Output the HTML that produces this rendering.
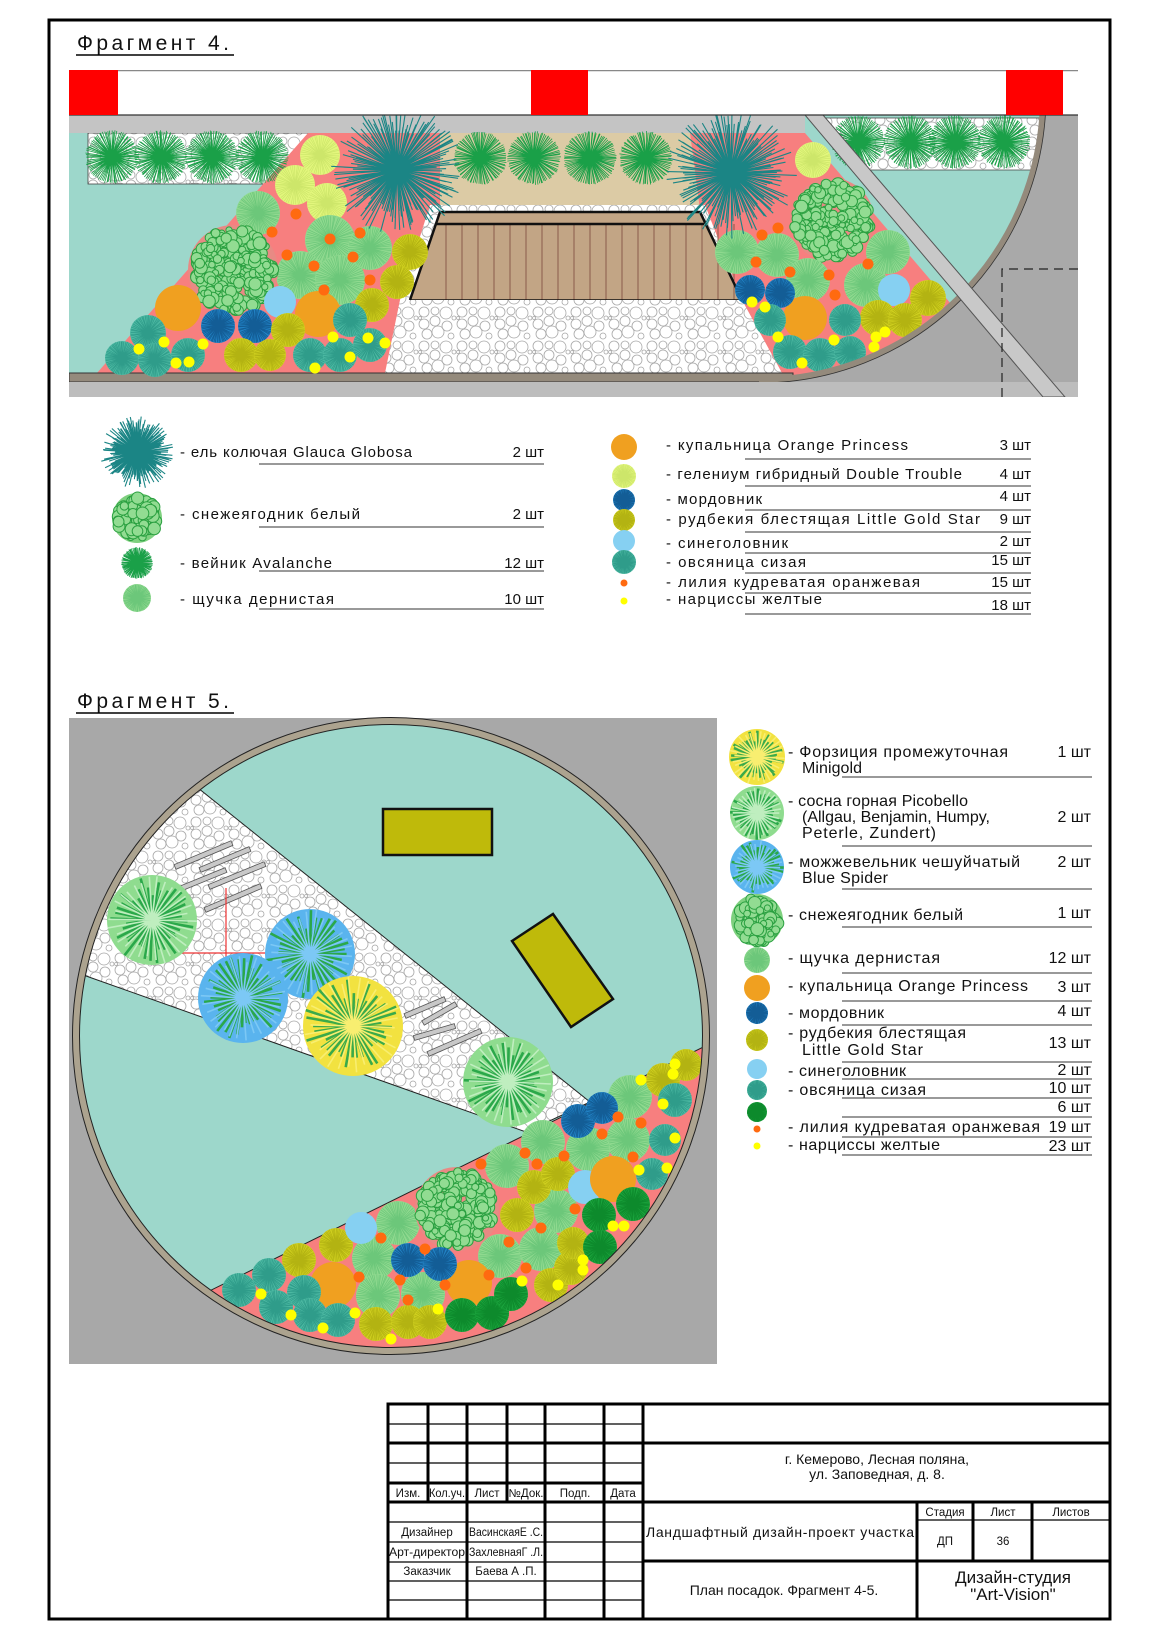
<!DOCTYPE html>
<html><head><meta charset="utf-8"><style>html,body{margin:0;padding:0;background:#fff}svg{display:block}text{font-family:"Liberation Sans",sans-serif;fill:#111}</style></head>
<body>
<svg id="s" width="1160" height="1640" viewBox="0 0 1160 1640" xmlns="http://www.w3.org/2000/svg">
<defs>
<pattern id="gv" width="38" height="34" patternUnits="userSpaceOnUse">
<rect width="38" height="34" fill="#fff"/>
<g fill="none" stroke="#a8a8a8" stroke-width="0.8">
<circle cx="6" cy="6" r="5"/><circle cx="17" cy="5" r="4"/><circle cx="28" cy="7" r="6"/><circle cx="6" cy="18" r="5"/><circle cx="17" cy="15" r="5"/><circle cx="29" cy="20" r="5"/><circle cx="9" cy="28" r="5"/><circle cx="20" cy="26" r="6"/><circle cx="33" cy="30" r="3"/><circle cx="36" cy="12" r="2"/><circle cx="2" cy="12" r="1.5"/>
</g></pattern>
<clipPath id="c4"><circle cx="759" cy="96" r="284"/></clipPath>
<clipPath id="arc4"><rect x="759" y="115" width="320" height="282"/></clipPath>
<clipPath id="c5"><circle cx="391" cy="1036" r="313"/></clipPath>
<clipPath id="f4"><rect x="69" y="70" width="1009" height="327"/></clipPath>
</defs>
<rect x="49" y="20" width="1061" height="1599" fill="none" stroke="#000" stroke-width="3"/>
<text x="77" y="50" font-size="21" textLength="152" lengthAdjust="spacing">Фрагмент 4.</text>
<line x1="76" y1="55" x2="234" y2="55" stroke="#000" stroke-width="1.6"/>
<text x="77" y="708" font-size="21" textLength="152" lengthAdjust="spacing">Фрагмент 5.</text>
<line x1="76" y1="713" x2="234" y2="713" stroke="#000" stroke-width="1.6"/>

<g id="fr4" clip-path="url(#f4)">
<rect x="69" y="70" width="1009" height="327" fill="#bdbdbd"/>
<rect x="740" y="115" width="338" height="282" fill="#a9a9a9"/>
<g clip-path="url(#arc4)"><circle cx="759" cy="96" r="284" fill="#9dd7cb"/></g>
<rect x="69" y="133" width="700" height="240" fill="#9dd7cb"/>
<rect x="88" y="133" width="240" height="51" fill="url(#gv)" stroke="#444" stroke-width="0.8"/>
<g clip-path="url(#c4)"><polygon points="818,118 1045,118 1045,170 862,170" fill="url(#gv)" stroke="#444" stroke-width="0.8"/></g>
<rect x="420" y="133" width="300" height="75" fill="#dccba5"/>
<polygon points="97,373 308,133 440,133 440,205 385,373" fill="#f77f7f"/>
<g clip-path="url(#c4)"><polygon points="690,133 805,133 1010,373 700,400 742,300 700,210" fill="#f77f7f"/></g>
<polygon points="430,205 705,205 742,300 400,300" fill="url(#gv)"/>
<polygon points="440,212 700,212 742,300 410,300" fill="#c2a585"/>
<g id="boards"></g>
<polyline points="410,300 440,212 700,212 742,300" fill="none" stroke="#111" stroke-width="2.5"/>
<line x1="436" y1="224" x2="704" y2="224" stroke="#111" stroke-width="2.5"/>
<line x1="410" y1="300" x2="742" y2="300" stroke="#111" stroke-width="1.5"/>
<polygon points="400,300 742,300 782,373 385,373" fill="url(#gv)"/>
<rect x="69" y="115" width="736" height="18" fill="#c4c4c4"/>
<rect x="69" y="373" width="724" height="9" fill="#948a7c" stroke="#333" stroke-width="1"/>
<g id="p4"></g>
<g clip-path="url(#arc4)">
<path d="M759 380 A284 284 0 0 0 1043 96 L1090 96 L1090 400 Z" fill="#a9a9a9"/>
<circle cx="759" cy="96" r="284" fill="none" stroke="#948a7c" stroke-width="6"/>
<circle cx="759" cy="96" r="287" fill="none" stroke="#333" stroke-width="0.8"/>
</g>
<rect x="69" y="382" width="1009" height="15" fill="#bdbdbd"/>
<polygon points="805,115 823,115 1065,397 1043,397" fill="#c8c8c8" stroke="#555" stroke-width="1"/>
<path d="M1002 397V269H1078" fill="none" stroke="#222" stroke-width="1.2" stroke-dasharray="9,6"/>
<g id="p4top"></g>
<rect x="69" y="70" width="1009" height="45" fill="#fff"/>
<line x1="69" y1="70.5" x2="1078" y2="70.5" stroke="#888" stroke-width="1.5"/>
<line x1="69" y1="115" x2="1078" y2="115" stroke="#333" stroke-width="1.2"/>
<rect x="69" y="70" width="49" height="45" fill="#f00"/>
<rect x="531" y="70" width="57" height="45" fill="#f00"/>
<rect x="1006" y="70" width="57" height="45" fill="#f00"/>
</g>

<g id="lg4" font-size="15">
<g id="lg4i"></g>
<text x="180" y="457" textLength="232" lengthAdjust="spacing">- ель колючая Glauca Globosa</text>
<text x="544" y="457" text-anchor="end">2 шт</text>
<text x="180" y="519" textLength="180" lengthAdjust="spacing">- снежеягодник белый</text>
<text x="544" y="519" text-anchor="end">2 шт</text>
<text x="180" y="568" textLength="152" lengthAdjust="spacing">- вейник Avalanche</text>
<text x="544" y="568" text-anchor="end">12 шт</text>
<text x="180" y="604" textLength="154" lengthAdjust="spacing">- щучка дернистая</text>
<text x="544" y="604" text-anchor="end">10 шт</text>
<g stroke="#333" stroke-width="1"><line x1="259" y1="464" x2="544" y2="464"/><line x1="259" y1="527" x2="544" y2="527"/><line x1="259" y1="571" x2="544" y2="571"/><line x1="259" y1="609" x2="544" y2="609"/></g>
<text x="666" y="450" textLength="242" lengthAdjust="spacing">- купальница Orange Princess</text><text x="1031" y="450" text-anchor="end">3 шт</text>
<text x="666" y="479" textLength="296" lengthAdjust="spacing">- гелениум гибридный Double Trouble</text><text x="1031" y="479" text-anchor="end">4 шт</text>
<text x="666" y="504" textLength="96" lengthAdjust="spacing">- мордовник</text><text x="1031" y="501" text-anchor="end">4 шт</text>
<text x="666" y="524" textLength="314" lengthAdjust="spacing">- рудбекия блестящая Little Gold Star</text><text x="1031" y="524" text-anchor="end">9 шт</text>
<text x="666" y="548" textLength="122" lengthAdjust="spacing">- синеголовник</text><text x="1031" y="546" text-anchor="end">2 шт</text>
<text x="666" y="567" textLength="140" lengthAdjust="spacing">- овсяница сизая</text><text x="1031" y="565" text-anchor="end">15 шт</text>
<text x="666" y="587" textLength="254" lengthAdjust="spacing">- лилия кудреватая оранжевая</text><text x="1031" y="587" text-anchor="end">15 шт</text>
<text x="666" y="604" textLength="156" lengthAdjust="spacing">- нарциссы желтые</text><text x="1031" y="610" text-anchor="end">18 шт</text>
<g stroke="#333" stroke-width="1"><line x1="745" y1="459" x2="1031" y2="459"/><line x1="745" y1="486" x2="1031" y2="486"/><line x1="745" y1="510" x2="1031" y2="510"/><line x1="745" y1="532" x2="1031" y2="532"/><line x1="745" y1="553" x2="1031" y2="553"/><line x1="745" y1="573" x2="1031" y2="573"/><line x1="745" y1="593" x2="1031" y2="593"/><line x1="745" y1="614" x2="1031" y2="614"/></g>
</g>

<g id="fr5">
<rect x="69" y="718" width="648" height="646" fill="#a8a8a8"/>
<circle cx="391" cy="1036" r="315" fill="#9dd7cb"/>
<g clip-path="url(#c5)">
<polygon points="100,709.5 590,1102 526,1132 0,945.5" fill="url(#gv)" stroke="#222" stroke-width="1"/>
<polygon points="100,1345 760,1019 760,1400 100,1400" fill="#f77f7f" stroke="#222" stroke-width="1"/>
<g id="bars" fill="#c8c8c8" stroke="#555" stroke-width="0.8"></g>
<path d="M226 888V1023M167 953H291" stroke="#e33" stroke-width="1.2" fill="none"/>
<rect x="383" y="809" width="109" height="46" fill="#bfba0a" stroke="#111" stroke-width="2.5"/>
<polygon points="512,941 553,914 613,999 571,1027" fill="#bfba0a" stroke="#111" stroke-width="2.5"/>
<g id="p5"></g>
</g>
<circle cx="391" cy="1036" r="315" fill="none" stroke="#aca38f" stroke-width="7"/>
<circle cx="391" cy="1036" r="311.5" fill="none" stroke="#222" stroke-width="1"/>
<circle cx="391" cy="1036" r="318.5" fill="none" stroke="#222" stroke-width="1"/>
</g>

<g id="lg5" font-size="16">
<g id="lg5i"></g>
<text x="788" y="757" textLength="220" lengthAdjust="spacing">- Форзиция промежуточная</text>
<text x="802" y="773" textLength="60" lengthAdjust="spacing">Minigold</text>
<text x="1091" y="757" text-anchor="end">1 шт</text>
<text x="788" y="806" textLength="180" lengthAdjust="spacing">- сосна горная Picobello</text>
<text x="802" y="822" textLength="188" lengthAdjust="spacing">(Allgau, Benjamin, Humpy,</text>
<text x="802" y="838" textLength="134" lengthAdjust="spacing">Peterle, Zundert)</text>
<text x="1091" y="822" text-anchor="end">2 шт</text>
<text x="788" y="867" textLength="232" lengthAdjust="spacing">- можжевельник чешуйчатый</text>
<text x="802" y="883" textLength="86" lengthAdjust="spacing">Blue Spider</text>
<text x="1091" y="867" text-anchor="end">2 шт</text>
<text x="788" y="920" textLength="175" lengthAdjust="spacing">- снежеягодник белый</text><text x="1091" y="918" text-anchor="end">1 шт</text>
<text x="788" y="963" textLength="152" lengthAdjust="spacing">- щучка дернистая</text><text x="1091" y="963" text-anchor="end">12 шт</text>
<text x="788" y="991" textLength="240" lengthAdjust="spacing">- купальница Orange Princess</text><text x="1091" y="992" text-anchor="end">3 шт</text>
<text x="788" y="1018" textLength="96" lengthAdjust="spacing">- мордовник</text><text x="1091" y="1016" text-anchor="end">4 шт</text>
<text x="788" y="1038" textLength="178" lengthAdjust="spacing">- рудбекия блестящая</text>
<text x="802" y="1055" textLength="121" lengthAdjust="spacing">Little Gold Star</text>
<text x="1091" y="1048" text-anchor="end">13 шт</text>
<text x="788" y="1076" textLength="118" lengthAdjust="spacing">- синеголовник</text><text x="1091" y="1075" text-anchor="end">2 шт</text>
<text x="788" y="1095" textLength="138" lengthAdjust="spacing">- овсяница сизая</text><text x="1091" y="1093" text-anchor="end">10 шт</text>
<text x="1091" y="1112" text-anchor="end">6 шт</text>
<text x="788" y="1132" textLength="252" lengthAdjust="spacing">- лилия кудреватая оранжевая</text><text x="1091" y="1132" text-anchor="end">19 шт</text>
<text x="788" y="1150" textLength="152" lengthAdjust="spacing">- нарциссы желтые</text><text x="1091" y="1151" text-anchor="end">23 шт</text>
<g stroke="#333" stroke-width="1"><line x1="842" y1="777" x2="1092" y2="777"/><line x1="842" y1="846" x2="1092" y2="846"/><line x1="842" y1="889" x2="1092" y2="889"/><line x1="842" y1="927" x2="1092" y2="927"/><line x1="842" y1="973" x2="1092" y2="973"/><line x1="842" y1="1001" x2="1092" y2="1001"/><line x1="842" y1="1025" x2="1092" y2="1025"/><line x1="842" y1="1062" x2="1092" y2="1062"/><line x1="842" y1="1079" x2="1092" y2="1079"/><line x1="842" y1="1098" x2="1092" y2="1098"/><line x1="842" y1="1117" x2="1092" y2="1117"/><line x1="842" y1="1137" x2="1092" y2="1137"/><line x1="842" y1="1155" x2="1092" y2="1155"/></g>
</g>

<g id="tb" stroke="#000" fill="none">
<rect x="388" y="1404" width="722" height="215" stroke-width="3"/>
<g stroke-width="1.2"><line x1="388" y1="1424" x2="643" y2="1424"/><line x1="388" y1="1463" x2="643" y2="1463"/>
<line x1="388" y1="1522" x2="643" y2="1522"/><line x1="388" y1="1542" x2="643" y2="1542"/><line x1="388" y1="1562" x2="643" y2="1562"/><line x1="388" y1="1581" x2="643" y2="1581"/><line x1="388" y1="1600" x2="643" y2="1600"/>
<line x1="917" y1="1520" x2="1110" y2="1520"/></g>
<g stroke-width="3"><line x1="388" y1="1443" x2="1110" y2="1443"/><line x1="388" y1="1483" x2="643" y2="1483"/><line x1="388" y1="1502" x2="1110" y2="1502"/><line x1="643" y1="1561" x2="1110" y2="1561"/>
<line x1="428" y1="1404" x2="428" y2="1502"/><line x1="507" y1="1404" x2="507" y2="1502"/>
<line x1="467" y1="1404" x2="467" y2="1619"/><line x1="545" y1="1404" x2="545" y2="1619"/><line x1="604" y1="1404" x2="604" y2="1619"/><line x1="643" y1="1404" x2="643" y2="1619"/>
<line x1="917" y1="1502" x2="917" y2="1619"/><line x1="973" y1="1502" x2="973" y2="1561"/><line x1="1032" y1="1502" x2="1032" y2="1561"/></g>
</g>
<g font-size="11.5" text-anchor="middle">
<text x="408" y="1497">Изм.</text><text x="447" y="1497" textLength="36" lengthAdjust="spacingAndGlyphs">Кол.уч.</text><text x="487" y="1497">Лист</text><text x="526" y="1497" textLength="35" lengthAdjust="spacingAndGlyphs">№Док.</text><text x="575" y="1497">Подп.</text><text x="623" y="1497">Дата</text>
<text x="427" y="1536">Дизайнер</text><text x="506" y="1536" textLength="74" lengthAdjust="spacingAndGlyphs">ВасинскаяЕ .С.</text>
<text x="427" y="1556" textLength="76" lengthAdjust="spacingAndGlyphs">Арт-директор</text><text x="506" y="1556" textLength="74" lengthAdjust="spacingAndGlyphs">ЗахлевнаяГ .Л.</text>
<text x="427" y="1575">Заказчик</text><text x="506" y="1575">Баева А .П.</text>
<text x="945" y="1516">Стадия</text><text x="1003" y="1516">Лист</text><text x="1071" y="1516">Листов</text>
<text x="945" y="1545">ДП</text><text x="1003" y="1545">36</text>
</g>
<g font-size="14" text-anchor="middle">
<text x="877" y="1464">г. Кемерово, Лесная поляна,</text>
<text x="877" y="1479">ул. Заповедная, д. 8.</text>
<text x="780" y="1537" textLength="268" lengthAdjust="spacing">Ландшафтный дизайн-проект участка</text>
<text x="784" y="1595">План посадок. Фрагмент  4-5.</text>
</g>
<g font-size="17" text-anchor="middle"><text x="1013" y="1583">Дизайн-студия</text><text x="1013" y="1600">"Art-Vision"</text></g>
</svg>
<script>
var sd=7;function R(){sd=(sd*16807)%2147483647;return sd/2147483647;}
function ray(cx,cy,r,n,col,sw,fill,mf){var h='';if(fill)h+='<circle cx="'+cx+'" cy="'+cy+'" r="'+r+'" fill="'+fill+'"/>';h+='<path d="';for(var i=0;i<n;i++){var a=i/n*6.2832+R()*0.06;var l=r*(mf+(1-mf)*R());h+='M'+cx+' '+cy+'L'+(cx+l*Math.cos(a)).toFixed(1)+' '+(cy+l*Math.sin(a)).toFixed(1);}return h+'" stroke="'+col+'" stroke-width="'+sw+'" fill="none"/>';}
function circ(x,y,r,f){return '<circle cx="'+x+'" cy="'+y+'" r="'+r+'" fill="'+f+'"/>';}
function bub(cx,cy,r,bg){var h=circ(cx,cy,r,bg||'#e88a84');for(var i=0;i<Math.round(r*r/7);i++){var a=R()*6.2832,d=Math.sqrt(R())*(r-4),rr=3+R()*3.5;h+='<circle cx="'+(cx+d*Math.cos(a)).toFixed(1)+'" cy="'+(cy+d*Math.sin(a)).toFixed(1)+'" r="'+rr.toFixed(1)+'" fill="#92dc92" stroke="#2aa040" stroke-width="1"/>';}return h;}
function wedge(cx,cy,r,fill,c1,c2){var h=circ(cx,cy,r,fill)+ray(cx,cy,r,40,c1,2.6,null,0.55);h+=ray(cx,cy,r,30,c2,1.6,null,0.8);return h;}
var T={sp:function(x,y,r){return ray(x,y,r,170,'#1b8585',1.1,null,0.55);},
gr:function(x,y,r){return ray(x,y,r,90,'#1aa048',0.8,null,0.93);},
sh:function(x,y,r){return ray(x,y,r,60,'#6cc77a',0.7,'#8fd98f',0.95);},
fe:function(x,y,r){return ray(x,y,r,60,'#2f9c8a',0.7,'#4cb8a2',0.95);},
ol:function(x,y,r){return ray(x,y,r,60,'#b3b312',0.7,'#cfcf1f',0.95);},
bl:function(x,y,r){return ray(x,y,r,60,'#135d96',0.8,'#2282c4',0.95);},
he:function(x,y,r){return ray(x,y,r,50,'#cde66a',0.7,'#e2f67c',0.95);},
dg:function(x,y,r){return ray(x,y,r,60,'#0d8a2c',0.8,'#1ba33d',0.95);},
or:function(x,y,r){return circ(x,y,r,'#f0a020');},
lb:function(x,y,r){return circ(x,y,r,'#86d0f2');},
yd:function(x,y,r){return circ(x,y,r||5.5,'#ffff00');},
od:function(x,y,r){return circ(x,y,r||5.5,'#ff6a10');},
sb:function(x,y,r){return bub(x,y,r);},
sbl:function(x,y,r){return bub(x,y,r,'#7fd07f');},
pi:function(x,y,r){return wedge(x,y,r,'#8fdc8f','#2aa84a','#bfeebf');},
ju:function(x,y,r){return wedge(x,y,r,'#5ab4ee','#2aa84a','#7cc8f5');},
fo:function(x,y,r){return wedge(x,y,r,'#f2e240','#3aaa4a','#f8ee70');}};
function draw(id,list){var h='';list.forEach(function(p){h+=T[p[0]](p[1],p[2],p[3]);});document.getElementById(id).innerHTML=h;}
var b='';for(var x=446;x<742;x+=16){b+='<line x1="'+x+'" y1="224" x2="'+x+'" y2="300" stroke="#8a5a4a" stroke-width="1"/>';}document.getElementById('boards').innerHTML=b;
var Y='yd',O='od';
draw('p4',[
['gr',112,157,27],['gr',161,157,27],['gr',212,157,27],['gr',262,157,27],['gr',480,158,27],['gr',534,158,27],['gr',590,158,27],['gr',646,158,27],
['gr',858,142,27],['gr',910,142,27],['gr',955,142,27],['gr',1004,142,27],
['he',320,155,20],['he',295,185,20],['he',327,203,20],['he',813,160,18],
['sh',258,213,22],['sh',330,240,25],['sh',300,275,24],['sh',340,280,25],['sh',370,248,22],
['sb',233,270,45],['sb',832,220,42],
['sh',737,252,22],['sh',777,255,22],['sh',808,280,22],['sh',866,285,22],['sh',888,252,22],
['or',178,308,23],['or',318,314,23],['or',805,318,22],
['bl',218,326,17],['bl',255,326,17],['bl',750,290,15],['bl',780,293,15],
['lb',280,302,16],['lb',894,290,16],
['ol',410,252,18],['ol',397,282,17],['ol',372,305,17],['ol',288,330,17],['ol',241,355,17],['ol',270,355,16],['ol',928,298,18],['ol',878,318,18],['ol',905,320,17],
['fe',148,333,18],['fe',122,358,17],['fe',155,360,17],['fe',188,355,17],['fe',350,320,17],['fe',310,355,17],['fe',340,355,17],['fe',370,345,17],
['fe',770,320,16],['fe',790,352,17],['fe',820,355,17],['fe',845,320,16],['fe',850,352,16],
[O,296,214],[O,272,232],[O,287,255],[O,314,266],[O,330,239],[O,353,257],[O,370,280],[O,324,290],[O,360,233],
[O,762,235],[O,778,228],[O,756,262],[O,790,272],[O,829,275],[O,868,264],[O,835,295],
[Y,139,349],[Y,164,342],[Y,176,363],[Y,189,362],[Y,203,344],[Y,333,337],[Y,368,338],[Y,385,343],[Y,350,357],[Y,315,368],
[Y,752,302],[Y,765,307],[Y,778,337],[Y,802,363],[Y,834,340],[Y,876,337],[Y,885,332],[Y,874,347],
['sp',397,170,66],['sp',731,173,66]]);
draw('lg4i',[['sp',137,452,37],['sbl',137,518,25],['gr',137,563,16],['sh',137,598,14],
['or',624,447,13],['he',624,476,12],['bl',624,500,11],['ol',624,520,11],['lb',624,541,11],['fe',624,562,12],['od',624,583,3.5],['yd',624,601,3.5]]);
draw('lg5i',[['fo',757,757,28],['pi',757,813,27],['ju',757,867,27],['sbl',757,920,26],['sh',757,960,13],['or',757,988,13],['bl',757,1013,11],['ol',757,1040,11],['lb',757,1069,10],['fe',757,1090,10],['dg',757,1112,10],['od',757,1129,3.5],['yd',757,1146,3.5]]);
var bars=[[175,867,232,843],[200,870,250,849],[177,890,226,870],[209,887,265,864],[205,910,261,886],[405,1016,445,999],[423,1023,456,1004],[414,1038,455,1026],[428,1054,481,1031]];
var bh='';bars.forEach(function(q){var dx=q[2]-q[0],dy=q[3]-q[1],L=Math.sqrt(dx*dx+dy*dy),a=Math.atan2(dy,dx)*180/Math.PI;bh+='<rect x="'+q[0]+'" y="'+(q[1]-2.5)+'" width="'+L.toFixed(1)+'" height="5" transform="rotate('+a.toFixed(1)+' '+q[0]+' '+q[1]+')"/>';});document.getElementById('bars').innerHTML=bh;
draw('p5',[
['pi',152,920,45],['ju',310,954,45],['ju',243,998,45],['fo',353,1026,50],['pi',508,1082,45],
['sh',630,1097,22],['sh',628,1140,22],['sh',588,1149,22],['sh',543,1142,22],['sh',507,1166,22],['sh',556,1211,22],['sh',500,1256,22],['sh',541,1249,22],['sh',398,1223,22],['sh',374,1258,22],['sh',378,1296,22],['sh',423,1294,22],
['ol',663,1080,17],['ol',686,1065,16],['ol',517,1215,17],['ol',534,1187,17],['ol',558,1174,17],['ol',551,1285,17],['ol',571,1268,17],['ol',573,1243,16],['ol',299,1260,17],['ol',336,1245,17],['ol',376,1324,17],['ol',408,1322,17],['ol',430,1322,17],
['sb',457,1209,42],
['lb',361,1228,16],['lb',585,1187,17],
['or',333,1285,23],['or',469,1283,23],['or',613,1179,23],
['bl',408,1260,17],['bl',440,1264,17],['bl',578,1121,17],['bl',602,1108,16],
['dg',462,1315,17],['dg',492,1313,17],['dg',511,1294,17],['dg',599,1215,17],['dg',633,1204,17],['dg',600,1247,17],
['fe',239,1290,17],['fe',269,1275,17],['fe',276,1307,17],['fe',304,1292,17],['fe',310,1315,17],['fe',338,1320,17],['fe',675,1100,17],['fe',665,1140,16],['fe',652,1174,16],
[O,481,1164],[O,525,1153],[O,537,1164],[O,564,1156],[O,602,1134],[O,618,1117],[O,641,1123],[O,633,1157],[O,575,1209],[O,541,1228],[O,509,1242],[O,526,1268],[O,489,1275],[O,445,1285],[O,425,1249],[O,381,1238],[O,359,1277],[O,400,1280],[O,408,1300],
[Y,641,1080],[Y,675,1064],[Y,673,1074],[Y,663,1104],[Y,675,1138],[Y,639,1170],[Y,667,1168],[Y,613,1226],[Y,624,1226],[Y,583,1260],[Y,583,1270],[Y,558,1285],[Y,522,1281],[Y,438,1309],[Y,355,1313],[Y,323,1328],[Y,291,1315],[Y,261,1294],[Y,391,1339]]);
</script>
</body></html>
